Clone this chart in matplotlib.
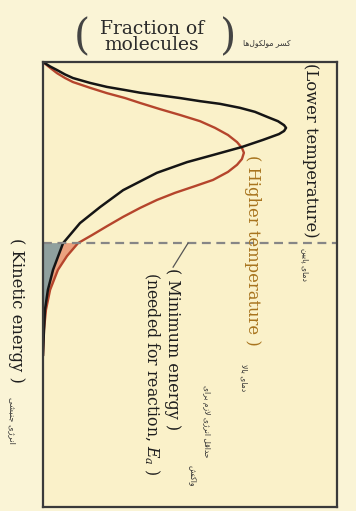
import numpy as np
import matplotlib.pyplot as plt

# Distribution curves (energy runs down, fraction runs right)
lower_energy = [0.0, 0.10, 0.18, 0.28, 0.36, 0.47, 0.56, 0.63, 0.69, 0.75, 0.81, 0.88,
                0.94, 1.03, 1.12, 1.24, 1.33, 1.42, 1.48, 1.55, 1.62, 1.75, 1.91, 2.09,
                2.25, 2.49, 2.88, 3.26, 3.62, 4.07, 4.67, 5.12, 5.57, 6.02, 6.58]
lower_fraction = [0.0, 0.029, 0.057, 0.090, 0.122, 0.192, 0.261, 0.335, 0.396, 0.478, 0.559, 0.641,
                  0.722, 0.804, 0.865, 0.918, 0.959, 0.984, 0.992, 0.984, 0.963, 0.898, 0.812, 0.694,
                  0.588, 0.465, 0.327, 0.233, 0.151, 0.082, 0.041, 0.020, 0.008, 0.004, 0.0]

higher_energy = [0.0, 0.13, 0.25, 0.36, 0.45, 0.58, 0.70, 0.81, 0.92, 1.06, 1.19, 1.33,
                 1.48, 1.64, 1.80, 1.93, 2.04, 2.18, 2.31, 2.47, 2.65, 2.79, 2.94, 3.10,
                 3.28, 3.48, 3.69, 3.89, 4.07, 4.36, 4.67, 5.12, 5.57, 6.02, 6.58]
higher_fraction = [0.0, 0.029, 0.057, 0.090, 0.122, 0.192, 0.261, 0.335, 0.396, 0.478, 0.559, 0.641,
                   0.702, 0.755, 0.792, 0.812, 0.820, 0.812, 0.792, 0.755, 0.694, 0.620, 0.539, 0.465,
                   0.396, 0.327, 0.261, 0.200, 0.143, 0.098, 0.061, 0.029, 0.012, 0.004, 0.0]

Ea = 4.07  # minimum energy needed for reaction

# --- small helper so the Persian words come out joined and right-to-left ---
FORMS = {
    'ا': (0xFE8D, 0xFE8E, None, None), 'ب': (0xFE8F, 0xFE90, 0xFE91, 0xFE92),
    'پ': (0xFB56, 0xFB57, 0xFB58, 0xFB59), 'ت': (0xFE95, 0xFE96, 0xFE97, 0xFE98),
    'ج': (0xFE9D, 0xFE9E, 0xFE9F, 0xFEA0), 'ح': (0xFEA1, 0xFEA2, 0xFEA3, 0xFEA4),
    'د': (0xFEA9, 0xFEAA, None, None), 'ر': (0xFEAD, 0xFEAE, None, None),
    'ز': (0xFEAF, 0xFEB0, None, None), 'ژ': (0xFB8A, 0xFB8B, None, None),
    'س': (0xFEB1, 0xFEB2, 0xFEB3, 0xFEB4), 'ش': (0xFEB5, 0xFEB6, 0xFEB7, 0xFEB8),
    'ق': (0xFED5, 0xFED6, 0xFED7, 0xFED8), 'ک': (0xFB8E, 0xFB8F, 0xFB90, 0xFB91),
    'ل': (0xFEDD, 0xFEDE, 0xFEDF, 0xFEE0), 'م': (0xFEE1, 0xFEE2, 0xFEE3, 0xFEE4),
    'ن': (0xFEE5, 0xFEE6, 0xFEE7, 0xFEE8), 'و': (0xFEED, 0xFEEE, None, None),
    'ه': (0xFEE9, 0xFEEA, 0xFEEB, 0xFEEC), 'ی': (0xFBFC, 0xFBFD, 0xFBFE, 0xFBFF),
}


def shape(s):
    out = []
    i = 0
    while i < len(s):
        ch = s[i]
        f = FORMS.get(ch)
        if f is None:
            out.append(ch)
            i += 1
            continue
        prev = s[i - 1] if i > 0 else ''
        joins_prev = prev in FORMS and FORMS[prev][2] is not None
        if ch == 'ل' and i + 1 < len(s) and s[i + 1] == 'ا':
            out.append(chr(0xFEFC if joins_prev else 0xFEFB))
            i += 2
            continue
        nxt = s[i + 1] if i + 1 < len(s) else ''
        joins_next = nxt in FORMS and f[2] is not None
        if joins_prev and joins_next:
            k = 3
        elif joins_prev:
            k = 1
        elif joins_next:
            k = 2
        else:
            k = 0
        out.append(chr(f[k]))
        i += 1
    return ''.join(reversed(out))


W, H = 356, 511
fig = plt.figure(figsize=(W / 100, H / 100), dpi=100)
fig.patch.set_facecolor('#FAF4D6')


def px(x, y):
    return x / W, 1 - y / H


ax = fig.add_axes([43 / W, 1 - 507 / H, (337 - 43) / W, (507 - 62) / H])
ax.set_facecolor('#FAF1C9')
ax.set_xlim(0, 1.2)
ax.set_ylim(10, 0)
ax.set_xticks([])
ax.set_yticks([])
for s in ax.spines.values():
    s.set_color('#3a3a3a')
    s.set_linewidth(1.6)

le = np.array(lower_energy)
lf = np.array(lower_fraction)
he = np.array(higher_energy)
hf = np.array(higher_fraction)

# shaded tails beyond Ea
lm = le >= Ea
hm = he >= Ea
ax.fill(np.r_[0, lf[lm]], np.r_[Ea, le[lm]], color='#8FA09E', lw=0)
ax.fill(np.r_[lf[lm], hf[hm][::-1]], np.r_[le[lm], he[hm][::-1]], color='#EBA27F', lw=0)

ax.plot(hf, he, color='#B5452C', lw=1.7, solid_joinstyle='round')
ax.plot(lf, le, color='#151515', lw=1.8, solid_joinstyle='round')

ax.axhline(Ea, color='#868686', lw=1.6, dashes=(4, 2.5))
ax.plot([0.592, 0.531], [Ea, 4.61], color='#555555', lw=0.9)

serif = 'DejaVu Serif'
plt.rcParams['mathtext.fontset'] = 'dejavuserif'

# top label
fig.text(*px(152, 37), 'Fraction of\nmolecules', ha='center', va='center',
         fontsize=13.5, family=serif, color='#2a2a2a', linespacing=0.9)
fig.text(*px(82, 37), '(', ha='center', va='center', fontsize=30,
         family=serif, color='#444444', fontweight='light')
fig.text(*px(228, 37), ')', ha='center', va='center', fontsize=30,
         family=serif, color='#444444', fontweight='light')
fig.text(*px(267, 43), shape('کسر مولکول‌ها'), ha='center', va='center',
         fontsize=5.5, family='DejaVu Sans', color='#333333')

# vertical labels
fig.text(*px(310, 63), '(Lower temperature)', rotation=-90, ha='center', va='top',
         fontsize=11.8, family=serif, color='#1e1e1e')
fig.text(*px(305, 248), shape('دمای پایین'), rotation=-90, ha='center', va='top',
         fontsize=5.5, family='DejaVu Sans', color='#333333')

fig.text(*px(252, 155), '( Higher temperature )', rotation=-90, ha='center', va='top',
         fontsize=11.8, family=serif, color='#A8741E')
fig.text(*px(244, 364), shape('دمای بالا'), rotation=-90, ha='center', va='top',
         fontsize=5.5, family='DejaVu Sans', color='#333333')

fig.text(*px(172, 268), '( Minimum energy )', rotation=-90, ha='center', va='top',
         fontsize=11.5, family=serif, color='#1e1e1e')
fig.text(*px(152, 272), '(needed for reaction, $E_a$ )', rotation=-90, ha='center', va='top',
         fontsize=11.3, family=serif, color='#1e1e1e')
fig.text(*px(206, 385), shape('حداقل انرژی لازم برای'), rotation=-90, ha='center', va='top',
         fontsize=5.5, family='DejaVu Sans', color='#333333')
fig.text(*px(193, 465), shape('واکنش'), rotation=-90, ha='center', va='top',
         fontsize=5.5, family='DejaVu Sans', color='#333333')

fig.text(*px(16, 238), '( Kinetic energy )', rotation=-90, ha='center', va='top',
         fontsize=11.8, family=serif, color='#1e1e1e')
fig.text(*px(12, 397), shape('انرژی جنبشی'), rotation=-90, ha='center', va='top',
         fontsize=6, family='DejaVu Sans', color='#333333')

plt.savefig('out.png', dpi=100, facecolor=fig.get_facecolor())
